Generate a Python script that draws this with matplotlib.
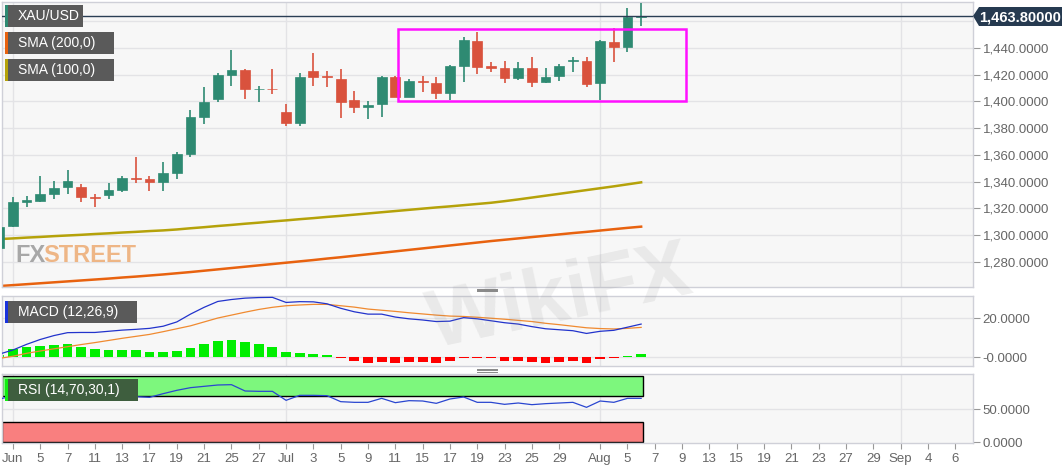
import matplotlib
matplotlib.use("Agg")
import matplotlib.pyplot as plt
from matplotlib.patches import Rectangle, Polygon
from matplotlib.lines import Line2D
from matplotlib.ticker import FuncFormatter
import numpy as np

plt.rcParams['font.family'] = ['Liberation Sans', 'DejaVu Sans']

# candle index: 0 = Jun 3 2019, -1 = May 31
idx = list(range(-1, 47))
opens = [1290, 1306.7, 1325, 1325.7, 1330.6, 1335.7, 1335.7, 1328.5, 1329.9, 1333.6,
         1342.5, 1342.1, 1339.8, 1346.6, 1360.6, 1388.1, 1401.8, 1419.8, 1423.5, 1409,
         1409.6, 1391.8, 1384, 1423, 1419, 1416.5, 1401, 1395.6, 1397.8, 1418.5,
         1403.5, 1415.3, 1414, 1406, 1426.5, 1445.5, 1426.7, 1424.8, 1417.8, 1425.3,
         1414.5, 1419.3, 1430, 1430.5, 1414, 1444.7, 1440.5, 1463.3]
highs = [1307, 1328.2, 1329, 1344.1, 1340.1, 1348.4, 1338.1, 1330.4, 1338.6, 1344,
         1358.6, 1344.1, 1354.4, 1362.3, 1393.6, 1411, 1421, 1438.5, 1424.3, 1411.5,
         1424.3, 1398, 1421, 1436.5, 1423, 1424, 1408, 1400.3, 1419, 1419,
         1417, 1419.3, 1418, 1427.3, 1448, 1452.2, 1429.3, 1430.3, 1429.3, 1433.5,
         1424.8, 1428, 1433, 1433, 1446, 1454.8, 1469.7, 1474]
lows = [1288, 1306, 1320.7, 1324.6, 1327.1, 1330.4, 1324.9, 1320.7, 1326.6, 1332,
        1338.6, 1333, 1333, 1341.6, 1358.1, 1383.1, 1399.8, 1411.8, 1402, 1399.3,
        1405.5, 1381.6, 1381.6, 1411.8, 1410.6, 1387.3, 1391.5, 1386.6, 1388, 1403,
        1403, 1407.3, 1401.6, 1401, 1414.8, 1420.5, 1422.2, 1414, 1415.8, 1411,
        1413.6, 1415.5, 1422.2, 1411, 1401, 1429.7, 1436.8, 1456.5]
closes = [1306, 1324.9, 1326, 1330.5, 1335.4, 1340.6, 1328.2, 1327.9, 1333.6, 1342.4,
          1341.8, 1339.8, 1346.6, 1360.6, 1388.5, 1399.6, 1419.5, 1423.3, 1409.1, 1409.6,
          1409.0, 1384, 1418, 1418.5, 1418, 1399.3, 1395.6, 1397.3, 1418.5, 1403.5,
          1415.3, 1414.5, 1406, 1426.3, 1446, 1425.5, 1424.8, 1417.8, 1425.3, 1414.5,
          1418, 1426.5, 1430.8, 1413, 1445.2, 1440.5, 1463.5, 1463.8]

sma200 = [1261.7, 1262.4, 1263.1, 1263.8, 1264.5, 1265.2, 1265.9, 1266.6, 1267.3, 1268.1,
          1268.8, 1269.6, 1270.4, 1271.3, 1272.2, 1273.2, 1274.2, 1275.2, 1276.2, 1277.2,
          1278.2, 1279.2, 1280.2, 1281.2, 1282.3, 1283.3, 1284.4, 1285.5, 1286.6, 1287.7,
          1288.8, 1289.9, 1291, 1292.1, 1293.2, 1294.3, 1295.4, 1296.4, 1297.4, 1298.4,
          1299.4, 1300.4, 1301.4, 1302.3, 1303.3, 1304.3, 1305.3, 1306.2]
sma100 = [1296.9, 1297.4, 1298, 1298.5, 1299.1, 1299.6, 1300.1, 1300.7, 1301.2, 1301.8,
          1302.3, 1302.9, 1303.4, 1304.1, 1305, 1305.8, 1306.7, 1307.5, 1308.4, 1309.2,
          1310.1, 1310.9, 1311.8, 1312.6, 1313.5, 1314.3, 1315.2, 1316.1, 1317, 1317.9,
          1318.8, 1319.7, 1320.6, 1321.4, 1322.3, 1323.2, 1324.1, 1325.3, 1326.6, 1328,
          1329.4, 1330.8, 1332.2, 1333.6, 1335, 1336.4, 1337.9, 1339.4]

macd = [1.5, 3.6, 6.5, 9, 11, 12.5, 12.6, 12.6, 13.2, 13.8,
        14.2, 14.7, 15.8, 18, 22, 25.5, 28.5, 29.5, 30.2, 30.5,
        30.6, 28, 28.4, 28.3, 27.3, 25, 23.2, 22, 22, 20.5,
        19.6, 19, 18.2, 18.4, 20.2, 19.6, 18.6, 17.6, 16.9, 15.6,
        14.5, 14, 13.5, 12.1, 13.2, 13.7, 15.3, 16.9]
signal = [-0.7, 0.4, 1.9, 3.1, 4.2, 5.3, 6.4, 7.4, 8.5, 9.6,
          10.6, 11.6, 13, 14.5, 16, 18, 20, 21.5, 23, 24.4,
          25.5, 26.3, 26.7, 27, 27, 26.3, 25.6, 24.6, 24, 23.4,
          22.7, 22.1, 21.5, 21, 20.8, 20.4, 19.9, 19.4, 18.8, 18.2,
          17.3, 16.6, 15.8, 15, 14.6, 14.4, 14.7, 15.2]
hist = [0.8, 3.9, 5, 5.8, 6.2, 6.7, 5.3, 4.3, 3.8, 3.8,
        3.4, 2.7, 2.6, 3.1, 4.6, 6.5, 8.2, 8.7, 7.7, 6.5,
        5.1, 2.4, 2.1, 1.4, 1.0, -0.5, -2.2, -3.1, -2.6, -3.2,
        -2.8, -2.8, -3.2, -2.2, -0.5, -0.5, -0.7, -2, -2, -2.8,
        -3.2, -2.6, -2.2, -3.2, -1.2, -0.6, 0.4, 1.6]
rsi = [65, 69.5, 70, 71.5, 72.5, 72, 67.5, 66.5, 69.5, 70,
       68.5, 67.5, 73, 78, 82, 84, 86, 86.5, 77, 76.5,
       76.5, 63, 70.5, 70.5, 70, 61, 60, 60, 66, 59.5,
       62.5, 62, 58.5, 65, 68, 60, 60, 57, 59, 56.5,
       58, 59, 60, 52.5, 62, 60, 66, 66]

tick_idx = [0, 2, 4, 6, 8, 10, 12, 14, 16, 18, 20, 22, 24, 26, 28, 30, 32, 34, 36, 38,
            40, 43, 45, 47, 49, 51, 53, 55, 57, 59, 61, 63, 65, 67, 69]
tick_labels = ['Jun', '5', '7', '11', '13', '17', '19', '21', '25', '27', 'Jul', '3', '5',
               '9', '11', '15', '17', '19', '23', '25', '29', 'Aug', '5', '7', '9', '13',
               '15', '19', '21', '23', '27', '29', 'Sep', '4', '6']
month_idx = [0, 20, 43, 65]
last_price = 1463.8

W, H = 1063, 469
fig = plt.figure(figsize=(W / 100, H / 100), dpi=100)
fig.patch.set_facecolor('white')


def px_axes(x0, y0, x1, y1):
    return fig.add_axes([x0 / W, 1 - y1 / H, (x1 - x0) / W, (y1 - y0) / H])


def fig_rect(x0, y0, x1, y1, **kw):
    fig.add_artist(Rectangle((x0 / W, 1 - y1 / H), (x1 - x0) / W, (y1 - y0) / H,
                             transform=fig.transFigure, **kw))


ax = px_axes(2, 2, 973, 287)
ax_m = px_axes(2, 296, 973, 366)
ax_r = px_axes(2, 374, 973, 443)

xmin, xmax = -0.8, 70.3
grid_c = '#e3e3e6'
for a in (ax, ax_m, ax_r):
    a.set_facecolor('#f7f7f7')
    a.set_xlim(xmin, xmax)
    for s in a.spines.values():
        s.set_color('#cfd0d8')
        s.set_linewidth(1)
    a.yaxis.tick_right()
    a.tick_params(axis='y', length=5, color='#999999', labelsize=9.5,
                  labelcolor='#666666', pad=2)
    a.set_xticks(tick_idx)
    for m in month_idx:
        a.axvline(m, color=grid_c, lw=1, zorder=0)

# main panel
ax.set_ylim(1261, 1474.5)
ax.set_yticks(np.arange(1280, 1441, 20))
ax.yaxis.set_major_formatter(FuncFormatter(lambda v, p: f'{v:,.4f}'))
for v in np.arange(1280, 1461, 20):
    ax.axhline(v, color=grid_c, lw=1, zorder=0)
ax.tick_params(axis='x', length=0, labelbottom=False)

green_c, red_c = '#2e8a72', '#d9523d'
for i, o, h, l, c in zip(idx, opens, highs, lows, closes):
    col = green_c if c >= o else red_c
    ax.plot([i, i], [l, h], color=col, lw=1.2, zorder=3, solid_capstyle='butt')
    body = max(abs(c - o), 0.7)
    ax.add_patch(Rectangle((i - 0.36, min(o, c)), 0.72, body, facecolor=col,
                           edgecolor=col, lw=0.5, zorder=4))

ax.plot(idx, sma100, color='#b5a20a', lw=1.8, zorder=2)
ax.plot(idx, sma200, color='#e8620f', lw=1.8, zorder=2)
ax.axhline(last_price, color='#2b3f55', lw=1, zorder=5)
ax.add_patch(Rectangle((28.2, 1400.5), 49.3 - 28.2, 1454 - 1400.5, fill=False,
                       edgecolor='#ff10ff', lw=1.8, zorder=6))

# watermarks
fig.text(15 / W, 1 - 255 / H, 'FX', color='#8c8c8c', alpha=0.75, fontsize=17,
         fontweight='bold', va='center', ha='left')
fig.text(43 / W, 1 - 255 / H, 'STREET', color='#eba060', alpha=0.75, fontsize=17,
         fontweight='bold', va='center', ha='left')
fig.text(560 / W, 1 - 300 / H, 'WikiFX', color='#8a8a8a', alpha=0.13, fontsize=58,
         fontweight='bold', va='center', ha='center', rotation=12)

# MACD panel
ax_m.set_ylim(-4.6, 31.3)
ax_m.set_yticks([0, 20])
ax_m.set_yticklabels(['-0.0000', '20.0000'])
ax_m.axhline(20, color=grid_c, lw=1, zorder=0)
ax_m.axhline(0, color=grid_c, lw=1, zorder=0)
ax_m.tick_params(axis='x', length=0, labelbottom=False)
hcols = ['#00ee00' if v >= 0 else '#ff0000' for v in hist]
ax_m.bar(idx, hist, width=0.72, color=hcols, zorder=2)
ax_m.plot(idx, signal, color='#f08a30', lw=0.9, zorder=3)
ax_m.plot(idx, macd, color='#2233cc', lw=0.9, zorder=4)

# RSI panel
ax_r.set_ylim(-1, 102.5)
ax_r.set_yticks([0, 50])
ax_r.set_yticklabels(['0.0000', '50.0000'])
ax_r.axhline(50, color=grid_c, lw=1, zorder=0)
ax_r.add_patch(Rectangle((xmin, 70), 46.1 - xmin, 30, facecolor='#7df77d',
                         edgecolor='black', lw=1, zorder=1))
ax_r.add_patch(Rectangle((xmin, 0), 46.1 - xmin, 30, facecolor='#f97f7f',
                         edgecolor='black', lw=1, zorder=1))
ax_r.plot(idx, rsi, color='#2a46d0', lw=0.9, zorder=3)
ax_r.set_xticklabels(tick_labels)
ax_r.tick_params(axis='x', length=4, color='#999999', labelsize=9.5,
                 labelcolor='#666666', pad=3)

# legend boxes
legends = [('XAU/USD', 5, 5, 83, 27, '#2e8a72', '#5a5a5a'),
           ('SMA (200,0)', 5, 32, 114, 54, '#e8620f', '#5a5a5a'),
           ('SMA (100,0)', 5, 59, 114, 81, '#b5a20a', '#5a5a5a'),
           ('MACD (12,26,9)', 5, 301, 137, 323, '#1a33dd', '#5a5a5a'),
           ('RSI (14,70,30,1)', 5, 379, 138, 401, '#11ee11', '#3e5e3e')]
for txt, x0, y0, x1, y1, sc, bc in legends:
    fig_rect(x0, y0, x1, y1, facecolor=bc, edgecolor='none', zorder=10)
    fig_rect(x0, y0, x0 + 3, y1, facecolor=sc, edgecolor='none', zorder=11)
    fig.text((x0 + 13) / W, 1 - (y0 + y1) / 2 / H, txt, color='white', fontsize=10,
             va='center', ha='left', zorder=12)

# last price tag
tag = Polygon([(973 / W, 1 - 16 / H), (979 / W, 1 - 7 / H), (1062 / W, 1 - 7 / H),
               (1062 / W, 1 - 26 / H), (979 / W, 1 - 26 / H)], closed=True,
              transform=fig.transFigure, facecolor='#263a50', edgecolor='none', zorder=10)
fig.add_artist(tag)
fig.text(1020 / W, 1 - 17 / H, f'{last_price:,.5f}', color='white', fontsize=10.5,
         fontweight='bold', va='center', ha='center', zorder=11)

# pane resize handles
for yy in (290, 370):
    for dy in (-1.5, 0, 1.5):
        fig.add_artist(Line2D([477 / W, 497 / W], [1 - (yy + dy) / H] * 2,
                              transform=fig.transFigure, color='#888888', lw=0.7))

fig.savefig('out.png', dpi=100, facecolor='white')
